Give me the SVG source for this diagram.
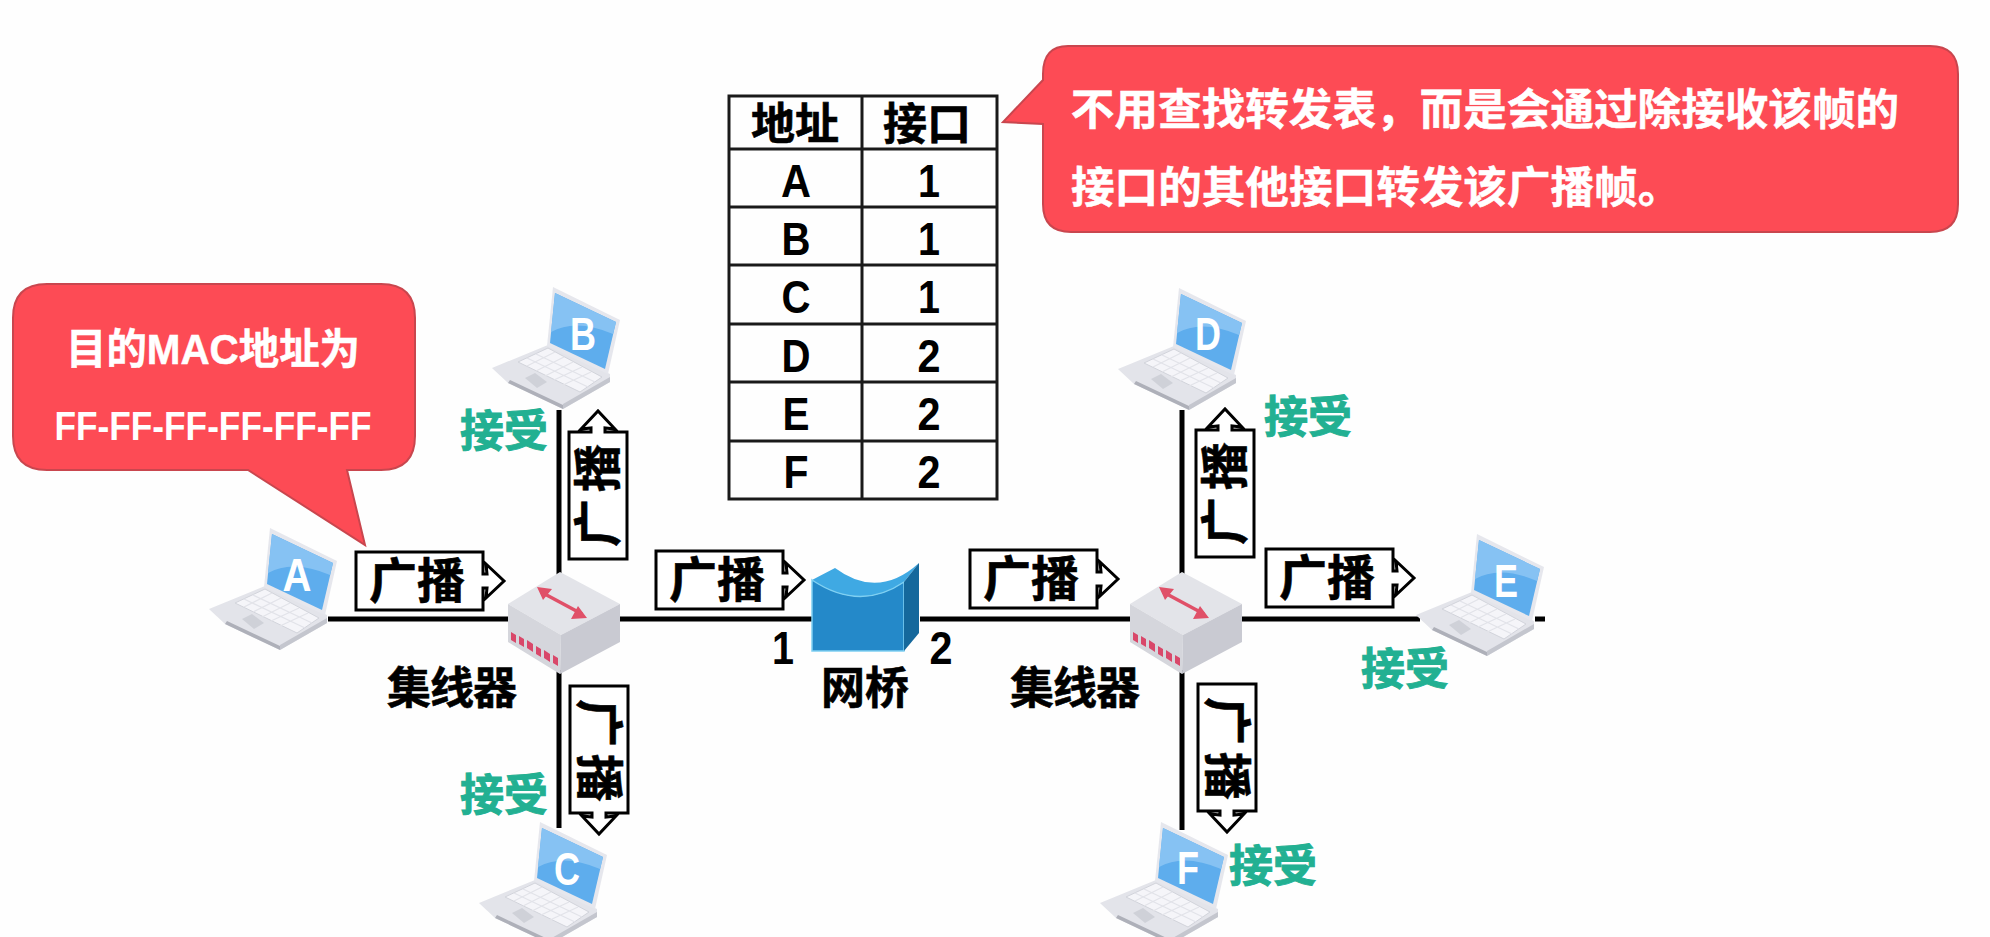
<svg xmlns="http://www.w3.org/2000/svg" width="1990" height="937" viewBox="0 0 1990 937">
<style>
text{font-family:"Liberation Sans","Noto Sans CJK SC",sans-serif;font-weight:700;text-anchor:middle}
.line{stroke:#000;stroke-width:5;fill:none}
.grid{stroke:#1a1a1a;stroke-width:3;fill:none}
.callout{fill:#fd4b55;stroke:#c9464e;stroke-width:2}
.w{fill:#fff;stroke:#fff;stroke-width:.5}
.g{fill:#22b092;stroke:#22b092;stroke-width:1;font-size:44px}
.k{fill:#000;stroke:#000;stroke-width:.6;font-size:44px}
.b{fill:#000;stroke:#000;stroke-width:.6;font-size:48px}
.v{letter-spacing:7px}
.t{fill:#000;font-size:46px}
.pc{fill:#fff;font-size:46px}
.arr{fill:#fff;stroke:#000;stroke-width:3}
</style>
<defs>
<g id="laptop">
<path d="M1,80 L57,57 L119,86 L119,94 L72,121 L17,95 Z" fill="#e3e4ea"/>
<path d="M27,74 L57,60 L111,89 L89,104 Z" fill="#f5f5f9" stroke="#d2d4db"/>
<path d="M36,70 L97,99 M45,66 L104,94 M36,78 L64,64 M45,83 L73,69 M54,88 L82,74 M63,92 L91,79 M72,97 L100,84" stroke="#e2e3e9" stroke-width="1.3" fill="none"/>
<path d="M34,90 L44,85 L56,94 L46,100 Z" fill="#cfd1d8"/>
<path d="M17,95 L72,121 L72,117 L19,92 Z" fill="#aeb0b9"/>
<path d="M72,121 L119,94 L119,89 L72,116 Z" fill="#c4c6ce"/>
<path d="M62,-1 L129,32 L117,86 L56,58 Z" fill="#e6e7ed"/>
<path d="M64,5 L125,34 L114,81 L59,55 Z" fill="#5eaded"/>
<path d="M64,5 L125,34 L122,46 Q85,30 60,44 Z" fill="#86c2f3"/>
</g>
<g id="hub">
<path d="M52,0 L112,32 L53,63 L0,32 Z" fill="#e3e4e9"/>
<path d="M0,32 L53,63 L52,102 L0,70 Z" fill="#d5d6dc"/>
<path d="M53,63 L112,32 L112,70 L52,102 Z" fill="#c9cad2"/>
<path d="M33,20 L74,42" stroke="#e05068" stroke-width="3.5"/>
<path d="M29,15 L44,17 L35,28 Z M79,46 L63,47 L70,34 Z" fill="#e05068"/>
<path d="M3,60 l5,3 v8 l-5,-3 Z M11,64 l5,3 v8 l-5,-3 Z M19,68 l6,4 v8 l-6,-4 Z M28,74 l5,3 v8 l-5,-3 Z M36,78 l6,4 v8 l-6,-4 Z M45,83 l5,3 v8 l-5,-3 Z" fill="#d9486a"/>
</g>
<path id="ba" class="arr" d="M0,0 H127 V22 H131 L130,12 L148,29 L130,46 L131,36 H127 V58 H0 Z"/>
</defs>
<rect width="1990" height="937" fill="#fefefe"/>

<g id="connectors">
<path class="line" d="M328,619 H512"/>
<path class="line" d="M616,619 H814"/>
<path class="line" d="M920,619 H1132"/>
<path class="line" d="M1240,619 H1420"/>
<path class="line" d="M1535,619 H1545"/>
<path class="line" d="M559,410 V575"/>
<path class="line" d="M559,670 V828"/>
<path class="line" d="M1182,410 V575"/>
<path class="line" d="M1182,670 V830"/>
</g>

<g id="callout-mac">
<path class="callout" d="M47,284 H381 Q415,284 415,318 V436 Q415,470 381,470 H347 L365,545 L248,470 H47 Q13,470 13,436 V318 Q13,284 47,284 Z"/>
<text class="w" x="213" y="364" textLength="294" lengthAdjust="spacingAndGlyphs" style="font-size:42px">目的MAC地址为</text>
<text class="w" x="213" y="440" textLength="317" lengthAdjust="spacingAndGlyphs" style="font-size:41px;stroke-width:0">FF-FF-FF-FF-FF-FF</text>
</g>

<g id="callout-note">
<path class="callout" d="M1068,46 H1930 Q1958,46 1958,74 V204 Q1958,232 1930,232 H1071 Q1043,232 1043,204 V124 L1003,122 L1043,80 V74 Q1043,46 1068,46 Z"/>
<text class="w" x="1485" y="125" style="font-size:43.6px">不用查找转发表，而是会通过除接收该帧的</text>
<text class="w" x="1071" y="203" style="font-size:43.6px;text-anchor:start">接口的其他接口转发该广播帧。</text>
</g>

<g id="table">
<rect class="grid" x="729" y="96" width="268" height="403"/>
<path class="grid" d="M862,96 V499 M729,149 H997 M729,207 H997 M729,265 H997 M729,324 H997 M729,382 H997 M729,441 H997"/>
<text class="k" x="795" y="140">地址</text><text class="k" x="927" y="140">接口</text>
<text class="t" x="796" y="197" textLength="30" lengthAdjust="spacingAndGlyphs">A</text><text class="t" x="929" y="197" textLength="22" lengthAdjust="spacingAndGlyphs">1</text>
<text class="t" x="796" y="255" textLength="29" lengthAdjust="spacingAndGlyphs">B</text><text class="t" x="929" y="255" textLength="22" lengthAdjust="spacingAndGlyphs">1</text>
<text class="t" x="796" y="313" textLength="29" lengthAdjust="spacingAndGlyphs">C</text><text class="t" x="929" y="313" textLength="22" lengthAdjust="spacingAndGlyphs">1</text>
<text class="t" x="796" y="372" textLength="29" lengthAdjust="spacingAndGlyphs">D</text><text class="t" x="929" y="372" textLength="23" lengthAdjust="spacingAndGlyphs">2</text>
<text class="t" x="796" y="430" textLength="27" lengthAdjust="spacingAndGlyphs">E</text><text class="t" x="929" y="430" textLength="23" lengthAdjust="spacingAndGlyphs">2</text>
<text class="t" x="796" y="488" textLength="25" lengthAdjust="spacingAndGlyphs">F</text><text class="t" x="929" y="488" textLength="23" lengthAdjust="spacingAndGlyphs">2</text>
</g>

<g id="pc-a"><use href="#laptop" x="208" y="529"/><text class="pc" x="297" y="591" textLength="29" lengthAdjust="spacingAndGlyphs">A</text></g>
<g id="pc-b"><use href="#laptop" x="491" y="288"/><text class="pc" x="583" y="350" textLength="26" lengthAdjust="spacingAndGlyphs">B</text></g>
<g id="pc-c"><use href="#laptop" x="478" y="823"/><text class="pc" x="567" y="885" textLength="26" lengthAdjust="spacingAndGlyphs">C</text></g>
<g id="pc-d"><use href="#laptop" x="1117" y="289"/><text class="pc" x="1208" y="350" textLength="26" lengthAdjust="spacingAndGlyphs">D</text></g>
<g id="pc-e"><use href="#laptop" x="1415" y="535"/><text class="pc" x="1506" y="597" textLength="24" lengthAdjust="spacingAndGlyphs">E</text></g>
<g id="pc-f"><use href="#laptop" x="1099" y="823"/><text class="pc" x="1188" y="884" textLength="22" lengthAdjust="spacingAndGlyphs">F</text></g>

<g id="hub-left"><use href="#hub" x="508" y="572"/><text class="k" x="452" y="704" textLength="130" lengthAdjust="spacing">集线器</text></g>
<g id="hub-right"><use href="#hub" x="1130" y="572"/><text class="k" x="1075" y="704" textLength="130" lengthAdjust="spacing">集线器</text></g>

<g id="bridge">
<path d="M812,580 Q860,612 904,582 L919,563 Q878,600 835,568 Z" fill="#3fa9e3"/>
<path d="M812,580 Q860,612 904,582 V651 H812 Z" fill="#2489c9" stroke="#7fd0f2" stroke-width="1.5"/>
<path d="M904,582 L919,563 V633 L904,651 Z" fill="#15689c"/>
<text class="k" x="865" y="704">网桥</text>
<text class="t" x="783" y="664" textLength="22" lengthAdjust="spacingAndGlyphs">1</text>
<text class="t" x="941" y="664" textLength="23" lengthAdjust="spacingAndGlyphs">2</text>
</g>

<g id="arrow-a" transform="translate(356,552)"><use href="#ba"/><text class="b" x="61" y="46">广播</text></g>
<g id="arrow-m1" transform="translate(656,551)"><use href="#ba"/><text class="b" x="61" y="46">广播</text></g>
<g id="arrow-m2" transform="translate(970,550)"><use href="#ba"/><text class="b" x="61" y="46">广播</text></g>
<g id="arrow-e" transform="translate(1266,549)"><use href="#ba"/><text class="b" x="61" y="46">广播</text></g>
<g id="arrow-b" transform="translate(569,559) rotate(-90)"><use href="#ba"/><text class="b v" x="67" y="46">广播</text></g>
<g id="arrow-c" transform="translate(628,686) rotate(90)"><use href="#ba"/><text class="b v" x="68" y="46">广播</text></g>
<g id="arrow-d" transform="translate(1196,557) rotate(-90)"><use href="#ba"/><text class="b v" x="67" y="46">广播</text></g>
<g id="arrow-f" transform="translate(1256,684) rotate(90)"><use href="#ba"/><text class="b v" x="68" y="46">广播</text></g>

<g id="accept-labels">
<text class="g" x="504" y="447">接受</text>
<text class="g" x="504" y="811">接受</text>
<text class="g" x="1308" y="433">接受</text>
<text class="g" x="1405" y="685">接受</text>
<text class="g" x="1273" y="882">接受</text>
</g>
</svg>
